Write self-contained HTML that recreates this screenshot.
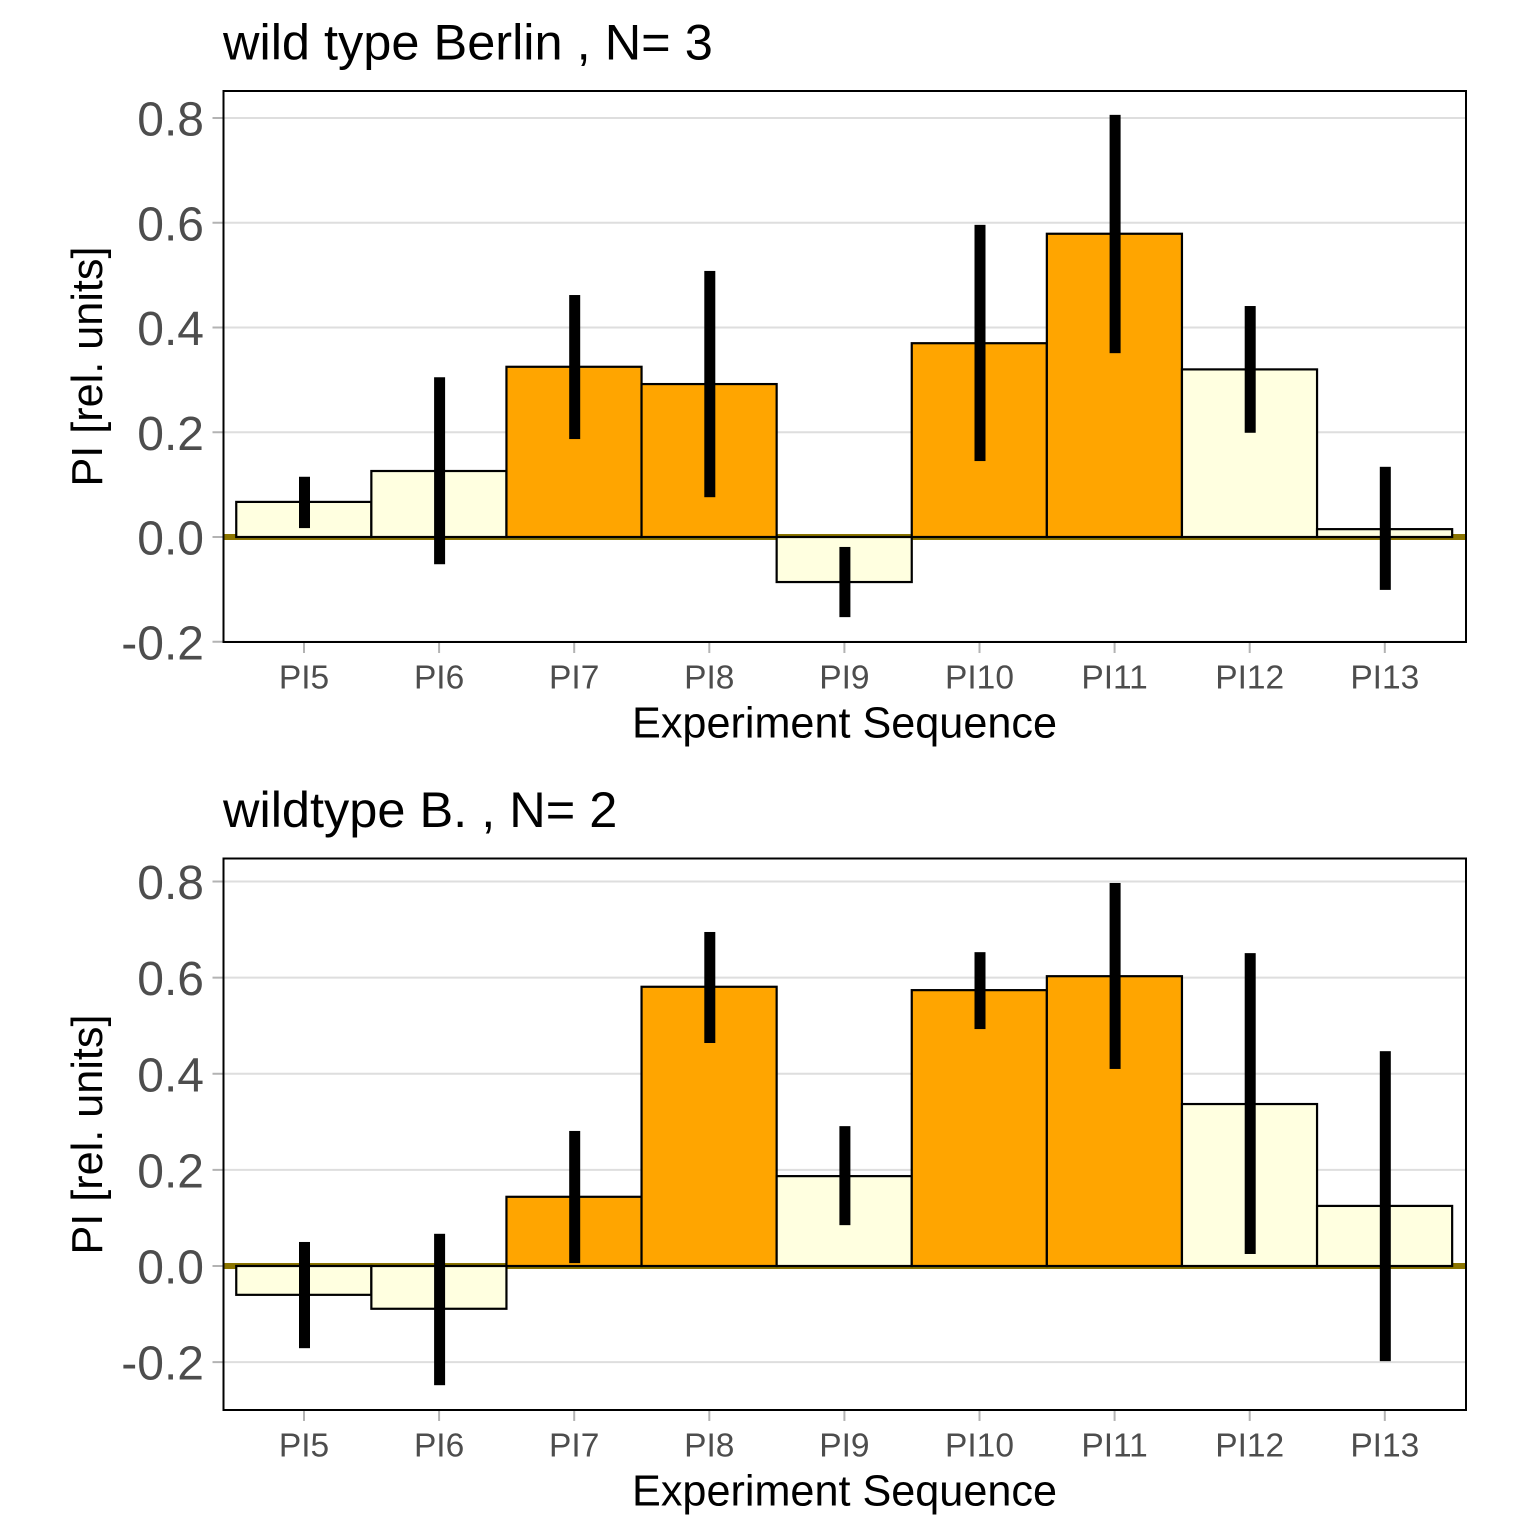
<!DOCTYPE html>
<html>
<head>
<meta charset="utf-8">
<style>
html,body{margin:0;padding:0;background:#fff}
svg{display:block}
text{font-family:"Liberation Sans",Arial,sans-serif}
</style>
</head>
<body>
<svg id="figure" width="1536" height="1536" viewBox="0 0 1536 1536" xmlns="http://www.w3.org/2000/svg">
  <rect width="1536" height="1536" fill="#ffffff"/>
  <g id="panel-a">
    <text x="223" y="59.5" font-size="50.5" fill="#000">wild type Berlin , N= 3</text>
    <text x="844.5" y="737.5" font-size="43.2" text-anchor="middle" fill="#000">Experiment Sequence</text>
    <text transform="translate(102,366.5) rotate(-90)" font-size="43.2" text-anchor="middle" fill="#000">PI [rel. units]</text>
  </g>
  <g id="panel-b">
    <text x="223" y="827" font-size="50.5" fill="#000">wildtype B. , N= 2</text>
    <text x="844.5" y="1505.5" font-size="43.2" text-anchor="middle" fill="#000">Experiment Sequence</text>
    <text transform="translate(102,1134.5) rotate(-90)" font-size="43.2" text-anchor="middle" fill="#000">PI [rel. units]</text>
  </g>
</svg>
<script>
const categories = ['PI5','PI6','PI7','PI8','PI9','PI10','PI11','PI12','PI13'];
const yTickValues = [-0.2, 0, 0.2, 0.4, 0.6, 0.8];
const yTickLabels = ['-0.2','0.0','0.2','0.4','0.6','0.8'];

const meansTop = [0.067, 0.126, 0.325, 0.292, -0.086, 0.370, 0.579, 0.320, 0.015];
const lowerTop = [0.017, -0.052, 0.187, 0.076, -0.153, 0.145, 0.351, 0.199, -0.101];
const upperTop = [0.115, 0.305, 0.462, 0.508, -0.019, 0.596, 0.806, 0.441, 0.134];
const significantTop = [false, false, true, true, false, true, true, false, false];

const meansBottom = [-0.060, -0.089, 0.144, 0.581, 0.187, 0.574, 0.603, 0.337, 0.125];
const lowerBottom = [-0.171, -0.248, 0.006, 0.464, 0.085, 0.493, 0.410, 0.025, -0.198];
const upperBottom = [0.050, 0.067, 0.281, 0.695, 0.291, 0.653, 0.797, 0.651, 0.447];
const significantBottom = [false, false, true, true, false, true, true, false, false];

const SVG_NS = 'http://www.w3.org/2000/svg';

function shape(parent, tag, attrs) {
  const el = document.createElementNS(SVG_NS, tag);
  for (const key in attrs) el.setAttribute(key, attrs[key]);
  parent.appendChild(el);
  return el;
}

function drawPanel(group, box, means, lower, upper, significant) {
  const xScale = i => 304 + i * 135.1;
  const yScale = v => box.zeroY - v * box.unit;
  const barWidth = 135.1;
  const errorWidth = 11;

  yTickValues.forEach((v, i) => {
    const grid = shape(group, 'line', {x1: box.left, x2: box.right, y1: yScale(v), y2: yScale(v), stroke: '#dedede', 'stroke-width': 2});
    
    
    const tick = shape(group, 'line', {x1: box.left - 11, x2: box.left, y1: yScale(v), y2: yScale(v), stroke: '#b3b3b3', 'stroke-width': 2});
    
    
    const label = shape(group, 'text', {x: 204, y: yScale(v) + 17.5, 'font-size': 48, 'text-anchor': 'end', fill: '#4d4d4d'});
    label.textContent = yTickLabels[i];
    
    
  });

  const zero = shape(group, 'line', {x1: box.left, x2: box.right, y1: yScale(0), y2: yScale(0), stroke: '#8b7500', 'stroke-width': 6});
  
  

  categories.forEach((name, i) => {
    const top = Math.min(yScale(means[i]), yScale(0));
    const height = Math.abs(yScale(means[i]) - yScale(0));
    const bar = shape(group, 'rect', {x: xScale(i) - barWidth / 2 - 0.2, y: top, width: barWidth, height: height, fill: significant[i] ? '#ffa500' : '#ffffe0', stroke: '#000', 'stroke-width': 2.2});
    
    
  });

  categories.forEach((name, i) => {
    const err = shape(group, 'rect', {x: xScale(i) + 0.5 - errorWidth / 2, y: yScale(upper[i]), width: errorWidth, height: yScale(lower[i]) - yScale(upper[i]), fill: '#000'});
    
    
    const tick = shape(group, 'line', {x1: xScale(i), x2: xScale(i), y1: box.bottom, y2: box.bottom + 11, stroke: '#b3b3b3', 'stroke-width': 2});
    
    
    const label = shape(group, 'text', {x: xScale(i), y: box.bottom + 46.5, 'font-size': 33.5, 'text-anchor': 'middle', fill: '#4d4d4d'});
    label.textContent = name;
    
    
  });

  const border = shape(group, 'rect', {x: box.left, y: box.top, width: box.right - box.left, height: box.bottom - box.top, fill: 'none', stroke: '#000', 'stroke-width': 2});
  
  
}

drawPanel(document.getElementById('panel-a'), {left: 223.5, right: 1466, top: 91, bottom: 642, zeroY: 537, unit: 523.75}, meansTop, lowerTop, upperTop, significantTop);
drawPanel(document.getElementById('panel-b'), {left: 223.5, right: 1466, top: 858.5, bottom: 1410, zeroY: 1266, unit: 480.6}, meansBottom, lowerBottom, upperBottom, significantBottom);
</script>
</body>
</html>
